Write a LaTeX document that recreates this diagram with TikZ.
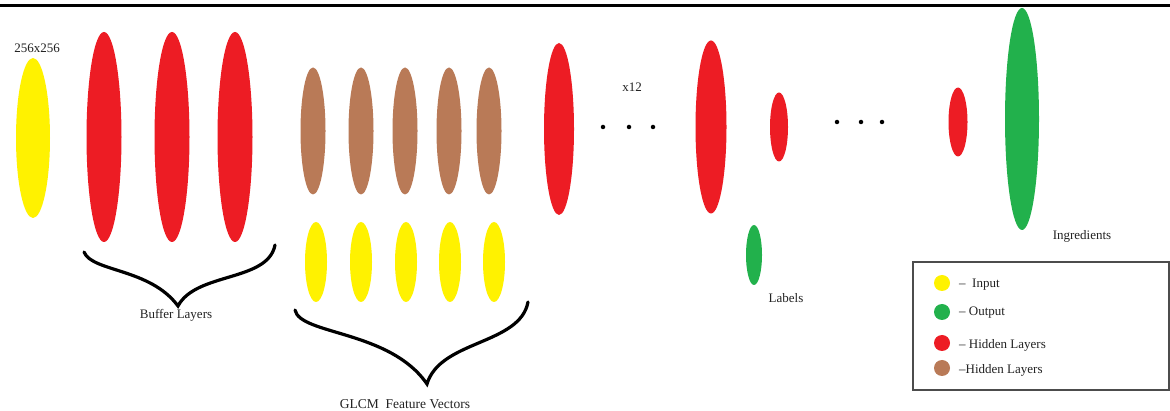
\documentclass[tikz,border=0pt]{standalone}
\usepackage{fontspec}
\setmainfont{Liberation Serif}
\usetikzlibrary{shapes.geometric}
\definecolor{pred}{HTML}{ED1C24}
\definecolor{pyellow}{HTML}{FFF200}
\definecolor{pgreen}{HTML}{22B14C}
\definecolor{pbrown}{HTML}{B97A57}
\definecolor{ptext}{HTML}{222222}
\tikzset{
  layer/.style={ellipse, draw=none, inner sep=0pt},
  lbl/.style={text=ptext, font=\fontsize{13}{15}\selectfont, inner sep=0pt},
  legtxt/.style={text=ptext, font=\fontsize{13}{15}\selectfont, inner sep=0pt, anchor=west},
  legdot/.style={circle, draw=none, minimum size=16pt, inner sep=0pt},
  dot/.style={circle, fill=black, minimum size=4.5pt, inner sep=0pt},
  brace/.style={line width=3.2pt, black, line cap=round, line join=miter},
}
\begin{document}
\begin{tikzpicture}[x=1pt, y=-1pt]
\useasboundingbox (0,0) rectangle (1170,411);
\fill[white] (0,0) rectangle (1170,411);
% top rule
\coordinate (ruleL) at (0,5.5);
\coordinate (ruleR) at (1170,5.5);
\draw[line width=3pt, black] (ruleL) -- (ruleR);

% input
\node[layer, fill=pyellow, minimum width=34pt, minimum height=160pt] (in) at (33,138) {};
\node[lbl] (insize) at (37,48) {256x256};

% buffer layers
\node[layer, fill=pred, minimum width=35pt, minimum height=210pt] (b1) at (104,137) {};
\node[layer, fill=pred, minimum width=35pt, minimum height=210pt] (b2) at (172,137) {};
\node[layer, fill=pred, minimum width=35pt, minimum height=210pt] (b3) at (235,137) {};
\coordinate (bbL) at (84,252);
\coordinate (bbT) at (178,306);
\coordinate (bbR) at (275,245);
\draw[brace] (bbL) .. controls (92,272) and (150,268) .. (bbT)
             .. controls (196,272) and (268,282) .. (bbR);
\node[lbl] (bufl) at (176,315) {Buffer Layers};

% brown hidden layers
\foreach \i/\x in {1/313,2/361,3/405,4/449,5/489}{
  \node[layer, fill=pbrown, minimum width=25pt, minimum height=127pt] (br\i) at (\x,131) {};
}
% GLCM yellow
\foreach \i/\x in {1/316,2/361,3/406,4/450,5/494}{
  \node[layer, fill=pyellow, minimum width=22pt, minimum height=80pt] (g\i) at (\x,262) {};
}
\coordinate (gbL) at (295,310);
\coordinate (gbT) at (427,384);
\coordinate (gbR) at (528,302);
\draw[brace] (gbL) .. controls (300,335) and (390,330) .. (gbT)
             .. controls (440,340) and (520,345) .. (gbR);
\node[lbl, font=\fontsize{13.5}{15}\selectfont] (glcm) at (405,404) {GLCM\ \ Feature Vectors};

% red after brown
\node[layer, fill=pred, minimum width=30pt, minimum height=172pt] (h1) at (559,129) {};

% dots x12
\node[dot] (d1) at (603,127) {};
\node[dot] (d2) at (629,127) {};
\node[dot] (d3) at (653,127) {};
\node[lbl] (x12) at (632,87) {x12};

% big red
\node[layer, fill=pred, minimum width=31pt, minimum height=173pt] (h2) at (711,127) {};
% small red
\node[layer, fill=pred, minimum width=18pt, minimum height=69pt] (h3) at (779,127) {};
% labels output
\node[layer, fill=pgreen, minimum width=16pt, minimum height=60pt] (outl) at (754,255) {};
\node[lbl] (labels) at (786,298) {Labels};

% dots
\node[dot] (e1) at (837,122) {};
\node[dot] (e2) at (861,122) {};
\node[dot] (e3) at (882,122) {};

% small red 2
\node[layer, fill=pred, minimum width=19pt, minimum height=69pt] (h4) at (958,122) {};
% ingredients output
\node[layer, fill=pgreen, minimum width=34pt, minimum height=222pt] (outi) at (1022,119) {};
\node[lbl] (ingr) at (1082,236) {Ingredients};

% legend
\node[draw=black!70, line width=1.3pt, minimum width=256pt, minimum height=128pt, inner sep=0pt] (legend) at (1041,326) {};
\node[legdot, fill=pyellow] (ly) at (942,283) {};
\node[legdot, fill=pgreen] (lg) at (942,312) {};
\node[legdot, fill=pred] (lr) at (942,343) {};
\node[legdot, fill=pbrown] (lb) at (942,368) {};
\node[legtxt] (tly) at (959,285) {--\ \ Input};
\node[legtxt] (tlg) at (959,313) {--\ Output};
\node[legtxt] (tlr) at (959,345) {--\ Hidden Layers};
\node[legtxt] (tlb) at (959,370) {--Hidden Layers};
\end{tikzpicture}
\end{document}
